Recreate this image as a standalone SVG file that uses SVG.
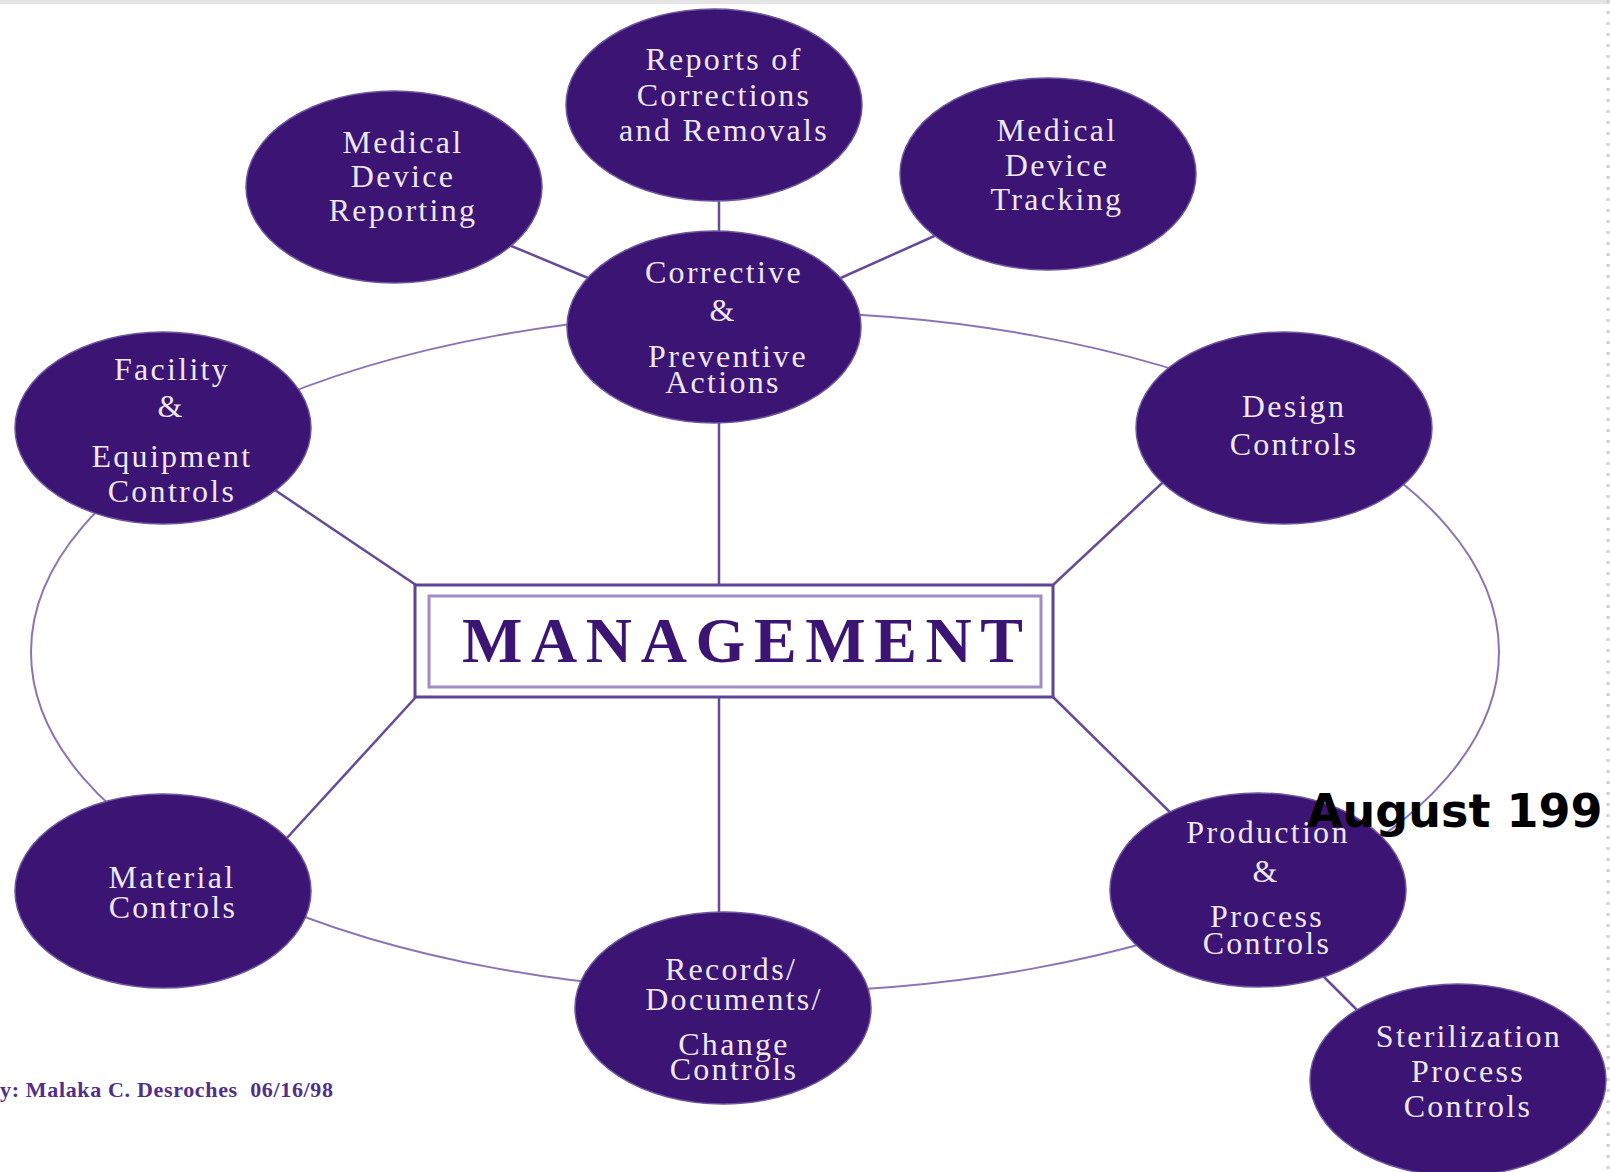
<svg xmlns="http://www.w3.org/2000/svg" width="1610" height="1172" viewBox="0 0 1610 1172">
<style>
.node{fill:#3c1474;stroke:#6d55a0;stroke-width:1.5}
.lbl{font-family:"Liberation Serif","Times New Roman",serif;font-size:32px;fill:#eee8f5;text-anchor:middle;letter-spacing:2.3px}
.spoke{stroke:#664a9a;stroke-width:2.5;fill:none}
.ring{stroke:#8a74b6;stroke-width:2;fill:none}
</style>
<rect width="1610" height="1172" fill="#ffffff"/>
<rect x="0" y="0" width="1610" height="4" fill="#e4e4e4"/>
<line x1="1608" y1="0" x2="1608" y2="1172" stroke="#d0d0d0" stroke-width="3" stroke-dasharray="3 8"/>
<g id="connectors">
<ellipse class="ring" cx="765" cy="652" rx="734" ry="340"/>
<line class="spoke" x1="719" y1="190" x2="719" y2="240"/>
<line class="spoke" x1="490" y1="237" x2="600" y2="283"/>
<line class="spoke" x1="950" y1="229" x2="825" y2="285"/>
<line class="spoke" x1="719" y1="410" x2="719" y2="585"/>
<line class="spoke" x1="719" y1="697" x2="719" y2="920"/>
<line class="spoke" x1="260" y1="480" x2="416" y2="585"/>
<line class="spoke" x1="1175" y1="471" x2="1053" y2="585"/>
<line class="spoke" x1="275" y1="851" x2="416" y2="697"/>
<line class="spoke" x1="1180" y1="822" x2="1053" y2="697"/>
<line class="spoke" x1="1315" y1="968" x2="1365" y2="1018"/>
</g>
<g id="management">
<rect x="415" y="585" width="638" height="112" fill="#ffffff" stroke="#5e4494" stroke-width="3"/>
<rect x="429" y="596" width="612" height="91" fill="none" stroke="#a08cc6" stroke-width="3"/>
<text x="462" y="662" textLength="561" lengthAdjust="spacing" font-family="Liberation Serif,Times New Roman,serif" font-weight="bold" font-size="64" fill="#3c1474">MANAGEMENT</text>
</g>
<g id="reports">
<ellipse class="node" cx="714" cy="105" rx="148" ry="96"/>
<text class="lbl" x="724" y="70">Reports of</text>
<text class="lbl" x="724" y="106">Corrections</text>
<text class="lbl" x="724" y="141">and Removals</text>
</g>
<g id="mdr">
<ellipse class="node" cx="394" cy="187" rx="148" ry="96"/>
<text class="lbl" x="403" y="153">Medical</text>
<text class="lbl" x="403" y="187">Device</text>
<text class="lbl" x="403" y="221">Reporting</text>
</g>
<g id="mdt">
<ellipse class="node" cx="1048" cy="174" rx="148" ry="96"/>
<text class="lbl" x="1057" y="141">Medical</text>
<text class="lbl" x="1057" y="176">Device</text>
<text class="lbl" x="1057" y="210">Tracking</text>
</g>
<g id="capa">
<ellipse class="node" cx="714" cy="327" rx="147" ry="96"/>
<text class="lbl" x="724" y="283">Corrective</text>
<text class="lbl" x="723" y="321">&amp;</text>
<text class="lbl" x="728" y="367">Preventive</text>
<text class="lbl" x="723" y="393">Actions</text>
</g>
<g id="facility">
<ellipse class="node" cx="163" cy="428" rx="148" ry="96"/>
<text class="lbl" x="172" y="380">Facility</text>
<text class="lbl" x="171" y="417">&amp;</text>
<text class="lbl" x="172" y="467">Equipment</text>
<text class="lbl" x="172" y="502">Controls</text>
</g>
<g id="design">
<ellipse class="node" cx="1284" cy="428" rx="148" ry="96"/>
<text class="lbl" x="1294" y="417">Design</text>
<text class="lbl" x="1294" y="455">Controls</text>
</g>
<g id="material">
<ellipse class="node" cx="163" cy="891" rx="148" ry="97"/>
<text class="lbl" x="172" y="888">Material</text>
<text class="lbl" x="173" y="918">Controls</text>
</g>
<g id="records">
<ellipse class="node" cx="723" cy="1008" rx="148" ry="96"/>
<text class="lbl" x="731" y="980">Records/</text>
<text class="lbl" x="734" y="1010">Documents/</text>
<text class="lbl" x="734" y="1055">Change</text>
<text class="lbl" x="734" y="1080">Controls</text>
</g>
<g id="production">
<ellipse class="node" cx="1258" cy="890" rx="148" ry="97"/>
<text class="lbl" x="1268" y="843">Production</text>
<text class="lbl" x="1266" y="882">&amp;</text>
<text class="lbl" x="1267" y="927">Process</text>
<text class="lbl" x="1267" y="954">Controls</text>
</g>
<g id="sterilization">
<ellipse class="node" cx="1458" cy="1080" rx="148" ry="96"/>
<text class="lbl" x="1469" y="1047">Sterilization</text>
<text class="lbl" x="1468" y="1082">Process</text>
<text class="lbl" x="1468" y="1117">Controls</text>
</g>
<text x="0" y="1097" textLength="333" lengthAdjust="spacing" xml:space="preserve" font-family="Liberation Serif,Times New Roman,serif" font-weight="bold" font-size="22" fill="#4f2f8a">y: Malaka C. Desroches  06/16/98</text>
<text x="1307" y="827" font-family="DejaVu Sans,Verdana,sans-serif" font-weight="bold" font-size="46" fill="#000000">August 199</text>
</svg>
